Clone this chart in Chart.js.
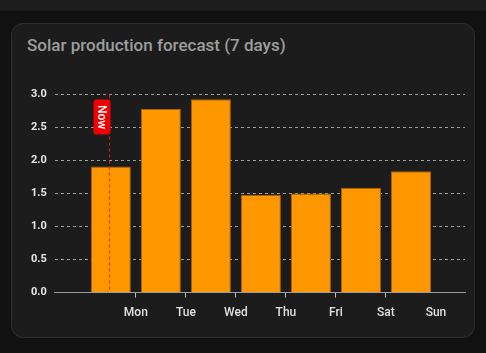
<!DOCTYPE html>
<html>
<head>
<meta charset="utf-8">
<script src="https://cdn.jsdelivr.net/npm/chart.js@4.4.0/dist/chart.umd.min.js"></script>
<style>
  html, body { margin: 0; padding: 0; }
  body { width: 486px; height: 353px; background: #111111; position: relative; overflow: hidden; font-family: Roboto, "Noto Sans", sans-serif; }
  .topbar { position: absolute; left: 0; top: 0; width: 486px; height: 11px; background: #1d1d1d; }
  .card { position: absolute; left: 11px; top: 23px; width: 462px; height: 313px; background: #1c1c1c; border: 1px solid #2e2e2e; border-radius: 12px; }
  .title { position: absolute; left: 15px; top: 11px; font-size: 17px; font-weight: 500; color: #9e9e9e; }
  .chart-box { position: absolute; left: 3px; top: 56px; width: 456px; height: 248px; }
</style>
</head>
<body>
<div class="topbar"></div>
<div class="card">
  <div class="title">Solar production forecast (7 days)</div>
  <div class="chart-box"><canvas id="chart"></canvas></div>
</div>
<script>
// x in days from Sunday 00:00, each bar sits at noon
const barDays = [0.5, 1.5, 2.5, 3.5, 4.5, 5.5, 6.5]
const forecastKWh = [1.91, 2.78, 2.93, 1.48, 1.50, 1.59, 1.84]
const tickDays = [1, 2, 3, 4, 5, 6, 7]
const tickLabels = ["Mon", "Tue", "Wed", "Thu", "Fri", "Sat", "Sun"]
const yTicks = [0, 0.5, 1, 1.5, 2, 2.5, 3]
const nowDay = 0.47
const nowLabel = "Now"

// small inline plugin for the "Now" marker (no annotation plugin available)
const nowMarker = {
  id: "nowMarker",
  afterDatasetsDraw(chart) {
    const { ctx, chartArea, scales } = chart
    const x = Math.round(scales.x.getPixelForValue(nowDay)) + 0.5
    ctx.save()
    ctx.strokeStyle = "rgba(255, 20, 0, 0.95)"
    ctx.lineWidth = 1
    ctx.setLineDash([3, 3])
    ctx.beginPath()
    ctx.moveTo(x, chartArea.top)
    ctx.lineTo(x, chartArea.bottom)
    ctx.stroke()
    ctx.setLineDash([])

    // label box, rotated text
    const w = 17, h = 35
    const bx = x - w + 1
    const by = chartArea.top + 5
    ctx.fillStyle = "#f00000"
    ctx.beginPath()
    ctx.roundRect(bx, by, w, h, 3)
    ctx.fill()
    ctx.translate(bx + w / 2, by + h / 2)
    ctx.rotate(Math.PI / 2)
    ctx.fillStyle = "#ffffff"
    ctx.font = "500 12px Roboto"
    ctx.textAlign = "center"
    ctx.textBaseline = "middle"
    ctx.fillText(nowLabel, 0, 1)
    ctx.restore()
  }
}

const ctx = document.getElementById("chart").getContext("2d")
new Chart(ctx, {
  type: "bar",
  data: {
    datasets: [
      {
        label: "Forecast",
        data: barDays.map((d, i) => ({ x: d, y: forecastKWh[i] })),
        backgroundColor: "#ff9800",
        borderColor: "#a86400",
        borderWidth: 1,
        categoryPercentage: 0.8,
        barPercentage: 1,
      },
    ],
  },
  options: {
    responsive: true,
    maintainAspectRatio: false,
    animation: false,
    layout: { padding: { left: 8, right: 6 } },
    plugins: {
      legend: { display: false },
      tooltip: { enabled: false },
    },
    scales: {
      x: {
        type: "linear",
        offset: false,
        min: -0.62,
        max: 7.58,
        afterBuildTicks: (scale) => {
          scale.ticks = tickDays.map((v) => ({ value: v }))
        },
        grid: {
          offset: false,
          drawOnChartArea: false,
          drawTicks: true,
          tickLength: 5,
          color: (c) => (c.index === tickDays.length - 1 ? "rgba(0,0,0,0)" : "#bdbdbd"),
        },
        border: { display: true, color: "#9e9e9e", width: 1 },
        ticks: {
          color: "#e0e0e0",
          padding: 8,
          maxRotation: 0,
          autoSkip: false,
          font: { family: "Roboto", size: 12, weight: 500 },
          callback: (value) => tickLabels[tickDays.indexOf(value)],
        },
      },
      y: {
        min: 0,
        max: 3,
        afterBuildTicks: (scale) => {
          scale.ticks = yTicks.map((v) => ({ value: v }))
        },
        grid: {
          drawTicks: false,
          color: "rgba(200, 200, 200, 0.75)",
          lineWidth: 1,
        },
        border: { display: false, dash: [3, 3] },
        ticks: {
          color: "#e8e8e8",
          padding: 8,
          font: { family: "Roboto", size: 11, weight: "bold" },
          callback: (value) => value.toFixed(1),
        },
      },
    },
  },
  plugins: [nowMarker],
})
</script>
</body>
</html>
